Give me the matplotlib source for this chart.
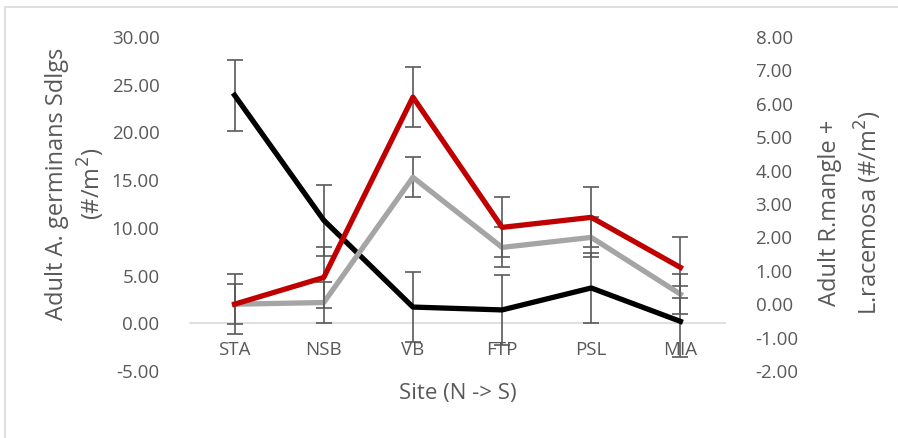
import numpy as np
import matplotlib.pyplot as plt
from matplotlib.patches import Rectangle

plt.rcParams['font.family'] = ['Open Sans', 'DejaVu Sans']

# data
sites = ['STA', 'NSB', 'VB', 'FTP', 'PSL', 'MIA']
germinans = [23.9, 10.8, 1.7, 1.4, 3.7, 0.2]   # left axis
germinans_err = [3.7, 3.7, 3.7, 3.7, 3.7, 3.7]
red_vals = [0.0, 0.8, 6.2, 2.3, 2.6, 1.1]        # right axis
red_err = [0.9, 0.9, 0.9, 0.9, 0.9, 0.9]
gray_vals = [0.0, 0.05, 3.8, 1.7, 2.0, 0.3]      # right axis
gray_err = [0.6, 0.6, 0.6, 0.6, 0.6, 0.6]

txt = '#595959'
x = np.arange(len(sites))

fig = plt.figure(figsize=(8.98, 4.38), dpi=100)
fig.patches.append(Rectangle((5 / 898, -0.1), 2, 1.1 - 7 / 438, transform=fig.transFigure,
                             fill=False, edgecolor='#D9D9D9', linewidth=1.2))
ax = fig.add_axes([190 / 898, 67 / 438, 535 / 898, 334 / 438])
ax2 = ax.twinx()

ebkw = dict(ecolor='#595959', elinewidth=1.2, capsize=6, capthick=1.2)
ax.errorbar(x, germinans, yerr=germinans_err, color='black', linewidth=3.8, zorder=3, **ebkw)
ax2.errorbar(x, gray_vals, yerr=gray_err, color='#A5A5A5', linewidth=3.8, zorder=3, **ebkw)
ax2.errorbar(x, red_vals, yerr=red_err, color='#C00000', linewidth=3.8, zorder=4, **ebkw)

ax.set_xlim(-0.5, 5.5)
ax.set_ylim(-5, 30)
ax2.set_ylim(-2, 8)
ax.set_yticks(np.arange(-5, 31, 5))
ax2.set_yticks(np.arange(-2, 9, 1))
ax.yaxis.set_major_formatter(lambda v, p: '%.2f' % v)
ax2.yaxis.set_major_formatter(lambda v, p: '%.2f' % v)

for a in (ax, ax2):
    for s in a.spines.values():
        s.set_visible(False)
    a.tick_params(length=0, labelsize=13.5, labelcolor=txt)

# category axis crosses at zero, labels sit just under it
ax.spines['bottom'].set_visible(True)
ax.spines['bottom'].set_position(('data', 0))
ax.spines['bottom'].set_color('#D9D9D9')
ax.spines['bottom'].set_linewidth(1.2)
ax.spines['bottom'].set_zorder(1)

ax.set_xticks(x)
ax.set_xticklabels(sites)
ax.tick_params(axis='x', pad=13)
ax.tick_params(axis='y', pad=22)
ax2.tick_params(axis='y', pad=22)

ax.set_xlabel('Site (N -> S)', fontsize=16, color=txt)
ax.set_ylabel('Adult A. germinans Sdlgs\n(#/m$^2$)', fontsize=17, color=txt, linespacing=1.25)
ax2.set_ylabel('Adult R.mangle +\nL.racemosa (#/m$^2$)', fontsize=17, color=txt, linespacing=1.45)
ax.xaxis.set_label_coords(0.5, -0.066)
ax.yaxis.set_label_coords(-0.213, 0.56)
ax2.yaxis.set_label_coords(1.236, 0.473)
ax.xaxis.label.set_va('center')
ax.yaxis.label.set_va('center')
ax2.yaxis.label.set_va('center')

fig.savefig('out.png', dpi=100)
